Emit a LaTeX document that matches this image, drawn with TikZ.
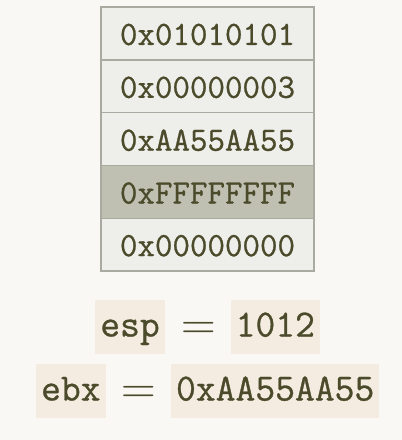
\documentclass[tikz,border=0pt]{standalone}
\usepackage{fontspec}
\setmonofont{Latin Modern Mono}[FakeBold=0.8]
\definecolor{bgc}{HTML}{F9F8F4}
\definecolor{cellc}{HTML}{EEEEEA}
\definecolor{hic}{HTML}{BFC0B2}
\definecolor{bordc}{HTML}{A9AAA0}
\definecolor{txtc}{HTML}{4B4B2B}
\definecolor{boxc}{HTML}{F4ECE0}
\begin{document}
\begin{tikzpicture}[x=1pt,y=1pt,
  cell/.style={draw=bordc, line width=1.2pt, fill=cellc, text=txtc,
    minimum width=213pt, minimum height=52.8pt, inner sep=0pt,
    text height=23pt, text depth=0pt, font=\fontsize{34}{40}\selectfont\ttfamily},
  hicell/.style={cell, fill=hic},
  vbox/.style={fill=boxc, text=txtc, inner sep=0pt, minimum height=54pt,
    text height=25pt, text depth=6pt, font=\fontsize{38.5}{44}\selectfont\ttfamily},
  eqs/.style={text=txtc, inner sep=0pt, text height=10pt, text depth=0pt,
    font=\fontsize{48}{54}\selectfont\rmfamily}]
\fill[bgc] (0,0) rectangle (402,-440);
\useasboundingbox (0,0) rectangle (402,-440);
\node[cell]   (r1) at (207.5,-33.4) {0x01010101};
\node[cell]   (r2) at (207.5,-86.3) {0x00000003};
\node[cell]   (r3) at (207.5,-139.2) {0xAA55AA55};
\node[hicell] (r4) at (207.5,-192.0) {0xFFFFFFFF};
\node[cell]   (r5) at (207.5,-244.6) {0x00000000};
\node[vbox, minimum width=70pt] (esp) at (130,-327) {esp};
\node[eqs] (eq1) at (198.5,-334) {=};
\node[vbox, minimum width=89pt] (espv) at (275.3,-327) {1012};
\node[vbox, minimum width=70pt] (ebx) at (70.8,-391) {ebx};
\node[eqs] (eq2) at (138.5,-398) {=};
\node[vbox, minimum width=208pt] (ebxv) at (275.2,-391) {0xAA55AA55};
\end{tikzpicture}
\end{document}
